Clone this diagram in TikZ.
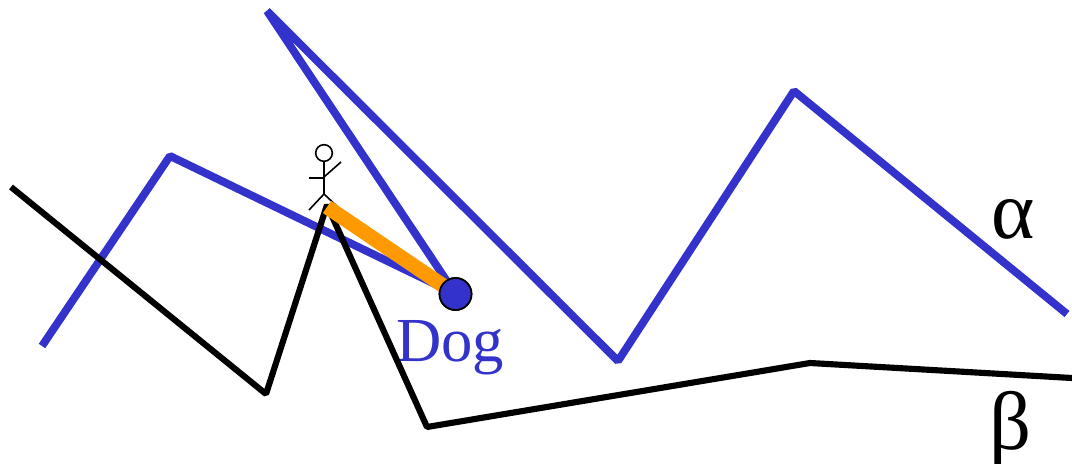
\documentclass[tikz,border=0pt]{standalone}
\usepackage{fontspec}
\setmainfont{Liberation Serif}
\usepackage{xcolor}
\usetikzlibrary{positioning}
\definecolor{walkblue}{HTML}{3333CC}
\definecolor{leashorange}{HTML}{FF9900}

\begin{document}
\begin{tikzpicture}[
		x=0.75pt, y=-0.75pt,
		curve/.style={line width=5.9pt, line join=bevel},
		alphacurve/.style={curve, draw=walkblue},
		betacurve/.style={curve, draw=black, line width=4.6pt},
		man/.style={draw=black, line width=1.2pt},
		leash/.style={draw=leashorange, line width=11pt},
		dogdot/.style={circle, draw=black, fill=walkblue, line width=1.3pt, minimum size=24pt, inner sep=0pt},
		curvelab/.style={font=\fontsize{47}{47}\selectfont, inner sep=0pt},
		greeklab/.style={font=\fontsize{62}{62}\selectfont, inner sep=0pt, anchor=base}
		]
		\useasboundingbox (0,0) rectangle (1072,464);
		
		% Dog and its label
		\node[dogdot] (dog) at (455.5,294) {};
		\node[curvelab, text=walkblue, anchor=base] (doglab) at (450,361) {Dog};
		
		% Corners of alpha
		\coordinate (a0) at (42,346);
		\coordinate (a1) at (170,156);
		\coordinate (a2) at (267,11);
		\coordinate (a3) at (618,361);
		\coordinate (a4) at (794,91);
		\coordinate (a5) at (1067,314);
		
		% Corners of beta
		\coordinate (b0) at (11,187);
		\coordinate (b1) at (266,394);
		\coordinate (b2) at (327,205);
		\coordinate (b3) at (427,427);
		\coordinate (b4) at (810,363);
		\coordinate (b5) at (1072,378);
		
		% The two curves
		\draw[alphacurve] (a0) -- (a1) -- (dog.center) -- (a2) -- (a3) -- (a4) -- (a5);
		\draw[betacurve] (b0) -- (b1) -- (b2) -- (b3) -- (b4) -- (b5);
		
		% Stick man
		\node[circle, man, minimum size=12.5pt, inner sep=0pt] (head) at (324,153) {};
		\coordinate (hip) at (324,194);
		\coordinate (chest) at (324,177);
		\coordinate (handL) at (309,178);
		\coordinate (handR) at (341,162);
		\coordinate (footL) at (309,210);
		\coordinate (footR) at (341,210);
		\draw[man] (head) -- (hip);
		\draw[man] (handL) -- (324,178) (chest) -- (handR);
		\draw[man] (footL) -- (hip) -- (footR);
		
		% Leash
		\coordinate (hand) at (327,207);
		\draw[leash] (hand) -- (dog.center);
		\node[dogdot] at (dog) {};
		
		% Curve names
		\node[greeklab] (alab) at (1013,238) {α};
		\node[greeklab] (blab) at (1011,449) {β};
		
	\end{tikzpicture}
\end{document}
